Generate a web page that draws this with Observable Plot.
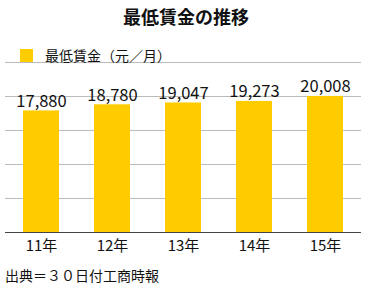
<!DOCTYPE html>
<html><head><meta charset="utf-8">
<script src="https://cdn.jsdelivr.net/npm/d3@7"></script>
<script src="https://cdn.jsdelivr.net/npm/@observablehq/plot@0.6"></script>
<style>
body{margin:0;background:#fff;font-family:"Noto Sans CJK JP","Noto Sans",sans-serif;color:#111}
#wrap{position:relative;width:372px;height:287px;overflow:hidden}
#title{position:absolute;top:3px;left:0;width:372px;text-align:center;font-size:18px;font-weight:bold;line-height:26px}
#legend{position:absolute;top:45px;left:20px;font-size:14px;line-height:20px;display:flex;align-items:center}
#legend span.sw{display:inline-block;width:13px;height:13px;background:#FFCC00;margin-right:12px}
#caption{position:absolute;top:264px;left:5px;font-size:14px;line-height:22px}
#chart{position:absolute;top:0;left:0}
</style></head>
<body><div id="wrap"><div id="chart"></div>
<div id="title">最低賃金の推移</div>
<div id="legend"><span class="sw"></span>最低賃金（元／月）</div>
<div id="caption">出典＝３０日付工商時報</div>
</div>
<script>
const years = ["11年","12年","13年","14年","15年"];
const wages = [17880, 18780, 19047, 19273, 20008];
const gridTicks = [5000, 10000, 15000, 20000, 25000];
const data = years.map((y,i)=>({year:y, wage:wages[i]}));
const chart = Plot.plot({
  width:372, height:287,
  marginTop:62, marginBottom:55, marginLeft:5, marginRight:11,
  style:{fontFamily:'"Noto Sans CJK JP","Noto Sans",sans-serif', background:"transparent", color:"#111"},
  x:{domain:years, paddingInner:0.5, paddingOuter:0.25, label:null},
  y:{domain:[0,25000], axis:null},
  marks:[
    Plot.ruleY(gridTicks,{stroke:"#bbb", strokeWidth:1}),
    Plot.barY(data,{x:"year", y:"wage", fill:"#FFCC00"}),
    Plot.ruleY([0],{stroke:"#444", strokeWidth:1}),
    Plot.text(data,{x:"year", y:"wage", text:d=>d3.format(",")(d.wage), lineAnchor:"bottom", dy:-4, fontSize:16.5, fill:"#111"}),
    Plot.axisX({tickSize:0, tickPadding:8, fontSize:15, label:null, fill:"#111"})
  ]
});
document.getElementById("chart").appendChild(chart);
</script></body></html>
